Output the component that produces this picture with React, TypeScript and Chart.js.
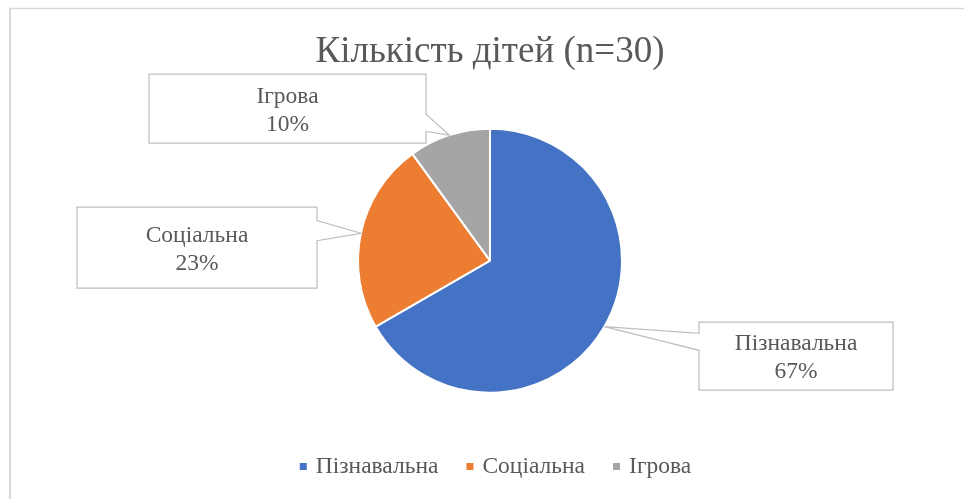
import React, { useEffect, useRef } from 'react';
import { Chart, registerables } from 'chart.js';

Chart.register(...registerables);

const chartTitle = 'Кількість дітей (n=30)';
const categories = ['Пізнавальна', 'Соціальна', 'Ігрова'];
const counts = [20, 7, 3];
const sliceColors = ['#4472C4', '#ED7D31', '#A5A5A5'];

const FONT = "'Liberation Serif', 'Times New Roman', serif";
const TEXT_COLOR = '#595959';
const LABEL_SIZE = 23.5;

// Callout box layout (label placement), one per category
const calloutBoxes = [
  { x: 699, y: 322, w: 194, h: 68 },
  { x: 77, y: 207, w: 240, h: 81 },
  { x: 149, y: 74, w: 277, h: 69 },
];

const framePlugin = {
  id: 'frame',
  beforeDraw(chart: any) {
    const ctx = chart.ctx;
    ctx.save();
    ctx.fillStyle = '#ffffff';
    ctx.fillRect(0, 0, chart.width, chart.height);
    ctx.strokeStyle = '#d9d9d9';
    ctx.lineWidth = 1.5;
    ctx.beginPath();
    ctx.moveTo(9, 8.5);
    ctx.lineTo(chart.width, 8.5);
    ctx.stroke();
    ctx.lineWidth = 2;
    ctx.beginPath();
    ctx.moveTo(10, 8);
    ctx.lineTo(10, chart.height);
    ctx.stroke();
    ctx.restore();
  },
};

const calloutPlugin = {
  id: 'callouts',
  afterDatasetsDraw(chart: any) {
    const ctx = chart.ctx;
    const meta = chart.getDatasetMeta(0);
    const data = chart.data.datasets[0].data as number[];
    const total = data.reduce((a, b) => a + b, 0);
    ctx.save();
    meta.data.forEach((arc: any, i: number) => {
      const box = calloutBoxes[i];
      if (!box) return;
      const p = arc.getProps(['x', 'y', 'startAngle', 'endAngle', 'outerRadius'], true);
      const mid = (p.startAngle + p.endAngle) / 2;
      const tx = p.x + Math.cos(mid) * p.outerRadius;
      const ty = p.y + Math.sin(mid) * p.outerRadius;
      const L = box.x, T = box.y, R = box.x + box.w, B = box.y + box.h;
      const cy = T + box.h / 2;
      const b1 = ty < cy ? T + (box.h * 2) / 12 : T + (box.h * 7) / 12;
      const b2 = ty < cy ? T + (box.h * 5) / 12 : T + (box.h * 10) / 12;
      ctx.beginPath();
      if (tx > R) {
        ctx.moveTo(L, T);
        ctx.lineTo(R, T);
        ctx.lineTo(R, b1);
        ctx.lineTo(tx, ty);
        ctx.lineTo(R, b2);
        ctx.lineTo(R, B);
        ctx.lineTo(L, B);
      } else {
        ctx.moveTo(L, T);
        ctx.lineTo(R, T);
        ctx.lineTo(R, B);
        ctx.lineTo(L, B);
        ctx.lineTo(L, b2);
        ctx.lineTo(tx, ty);
        ctx.lineTo(L, b1);
      }
      ctx.closePath();
      ctx.fillStyle = '#ffffff';
      ctx.fill();
      ctx.strokeStyle = '#bfbfbf';
      ctx.lineWidth = 1.25;
      ctx.lineJoin = 'miter';
      ctx.stroke();

      const pct = Math.round((data[i] / total) * 100) + '%';
      ctx.fillStyle = TEXT_COLOR;
      ctx.font = `${LABEL_SIZE}px ${FONT}`;
      ctx.textAlign = 'center';
      ctx.textBaseline = 'alphabetic';
      const cx = L + box.w / 2;
      ctx.fillText(chart.data.labels[i], cx, cy - 6);
      ctx.fillText(pct, cx, cy + 22);
    });
    ctx.restore();
  },
};

const legendPlugin = {
  id: 'customLegend',
  afterDraw(chart: any) {
    const ctx = chart.ctx;
    const labels = chart.data.labels as string[];
    const colors = chart.data.datasets[0].backgroundColor as string[];
    ctx.save();
    ctx.font = `${LABEL_SIZE}px ${FONT}`;
    const box = 7, gapText = 9, gapItem = 28;
    const widths = labels.map((l) => ctx.measureText(l).width);
    const total = widths.reduce((a, w) => a + box + gapText + w, 0) + gapItem * (labels.length - 1);
    let x = 495.5 - total / 2;
    const yc = 467;
    ctx.textBaseline = 'middle';
    ctx.textAlign = 'left';
    labels.forEach((l, i) => {
      ctx.fillStyle = colors[i];
      ctx.fillRect(x, yc - box / 2 - 0.5, box, box);
      ctx.fillStyle = TEXT_COLOR;
      ctx.fillText(l, x + box + gapText, yc);
      x += box + gapText + widths[i] + gapItem;
    });
    ctx.restore();
  },
};

export default function App() {
  const ref = useRef<HTMLCanvasElement | null>(null);
  useEffect(() => {
    document.body.style.margin = '0';
    document.body.style.overflow = 'hidden';
    const canvas = ref.current;
    if (!canvas) return;
    const chart = new Chart(canvas, {
      type: 'pie',
      data: {
        labels: categories,
        datasets: [
          {
            data: counts,
            backgroundColor: sliceColors,
            borderColor: '#ffffff',
            borderWidth: 2,
            radius: 132,
          } as any,
        ],
      },
      options: {
        responsive: false,
        animation: false,
        devicePixelRatio: 1,
        layout: { padding: { left: 16, top: 0, right: 0, bottom: 52 } },
        plugins: {
          legend: { display: false },
          tooltip: { enabled: false },
          title: {
            display: true,
            text: chartTitle,
            color: TEXT_COLOR,
            font: { family: FONT, size: 37, weight: 'normal' as any, lineHeight: 1.2 },
            padding: { top: 30, bottom: 0 },
          },
        },
      },
      plugins: [framePlugin, calloutPlugin, legendPlugin],
    });
    return () => chart.destroy();
  }, []);
  return <canvas ref={ref} width={964} height={499} style={{ display: 'block' }} />;
}
